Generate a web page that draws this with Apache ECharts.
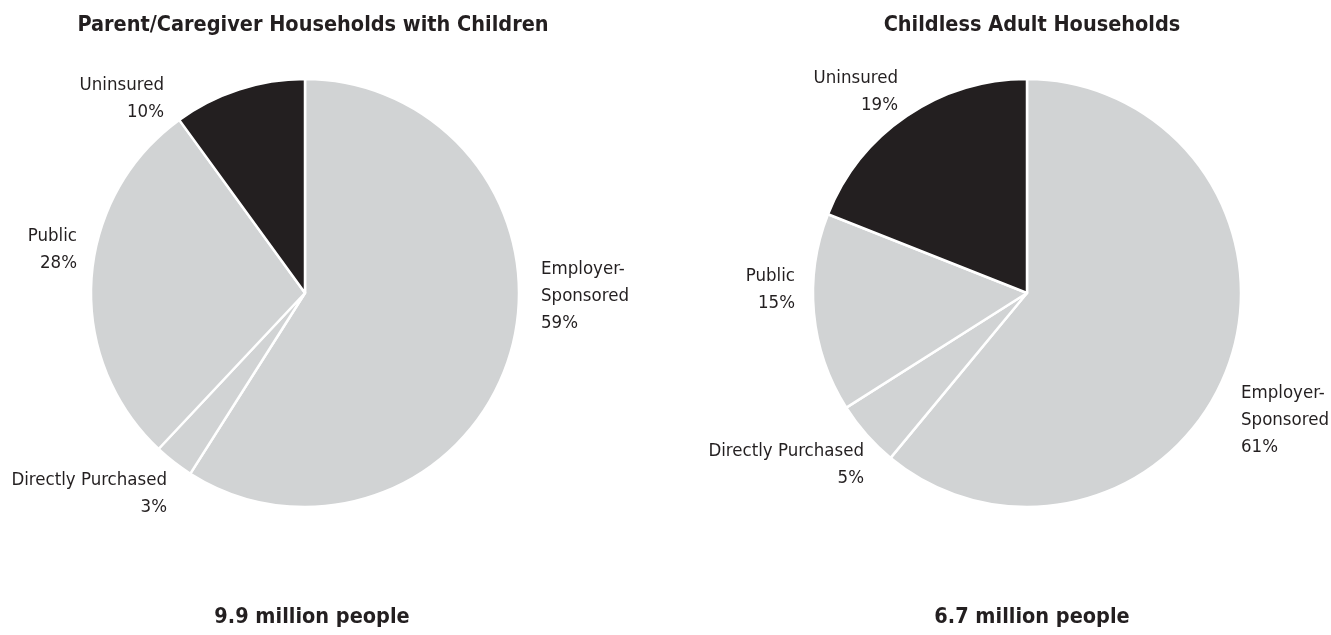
<!DOCTYPE html>
<html><head><meta charset="utf-8">
<script src="https://cdn.jsdelivr.net/npm/echarts@6/dist/echarts.min.js"></script>
<style>html,body{margin:0;padding:0;background:#fff}#c{width:1331px;height:635px}</style>
</head><body><div id="c"></div>
<script>
const categories = ['Employer-\nSponsored', 'Directly Purchased', 'Public', 'Uninsured'];
const parentValues = [59, 3, 28, 10];
const childlessValues = [61, 5, 15, 19];
const titles = ['Parent/Caregiver Households with Children', 'Childless Adult Households'];
const totals = ['9.9 million people', '6.7 million people'];

const FONT = '"Liberation Sans Narrow", "DejaVu Sans Condensed", sans-serif';
const TXT = '#231f20';
const colors = ['#d1d3d4', '#d1d3d4', '#d1d3d4', '#231f20'];
// label anchor offsets relative to pie centre
const labelOffsets = [
  [[236, 3, 'left'], [-138, 201, 'right'], [-228, -43, 'right'], [-141, -194, 'right']],
  [[214, 127, 'left'], [-163, 172, 'right'], [-232, -3, 'right'], [-129, -201, 'right']]
];
const centers = [[305, 293], [1027, 293]];

function series(i, values) {
  return {
    type: 'pie',
    center: centers[i],
    radius: 214,
    startAngle: 90,
    clockwise: true,
    animation: false,
    silent: true,
    label: {
      show: true, position: 'outside', fontFamily: FONT, fontSize: 18.5, color: TXT, lineHeight: 27,
      overflow: 'none',
      formatter: p => p.name + '\n' + p.value + '%'
    },
    labelLine: { show: false },
    labelLayout: p => {
      const o = labelOffsets[i][p.dataIndex];
      return { x: centers[i][0] + o[0], y: centers[i][1] + o[1], align: o[2], verticalAlign: 'middle' };
    },
    itemStyle: { borderColor: '#fff', borderWidth: 2.5 },
    data: values.map((v, k) => ({ name: categories[k], value: v, itemStyle: { color: colors[k] } }))
  };
}

const titleStyle = { fontFamily: FONT, fontWeight: 'bold', fontSize: 21.5, color: TXT };
const chart = echarts.init(document.getElementById('c'), null, { renderer: 'canvas' });
chart.setOption({
  backgroundColor: '#fff',
  title: [
    { text: titles[0], left: 308, top: 9, textAlign: 'center', textStyle: titleStyle },
    { text: titles[1], left: 1027, top: 9, textAlign: 'center', textStyle: titleStyle },
    { text: totals[0], left: 307, top: 601, textAlign: 'center', textStyle: titleStyle },
    { text: totals[1], left: 1027, top: 601, textAlign: 'center', textStyle: titleStyle }
  ],
  series: [series(0, parentValues), series(1, childlessValues)]
});
</script></body></html>
